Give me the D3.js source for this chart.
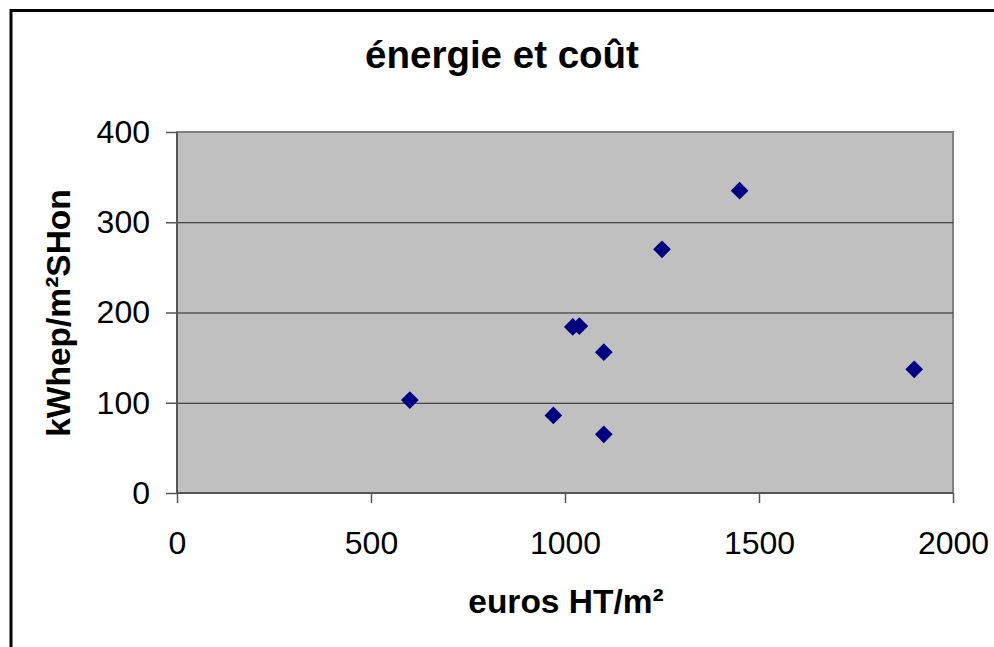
<!DOCTYPE html>
<html><head><meta charset="utf-8">
<script src="https://cdn.jsdelivr.net/npm/d3@7"></script>
<style>body{margin:0;background:#fff}svg{display:block}</style>
</head><body>
<svg id="c" width="994" height="647"></svg>
<script>
const costs    = [600, 970, 1020, 1037, 1100, 1100, 1250, 1450, 1900];
const energies = [103, 86, 184, 185, 156, 65, 270, 335, 137];
const xTicks = [0, 500, 1000, 1500, 2000];
const yTicks = [0, 100, 200, 300, 400];
const title = "énergie et coût";
const xLabel = "euros HT/m²";
const yLabel = "kWhep/m²SHon";

const svg = d3.select("#c");
const font = "'Liberation Sans', Arial, sans-serif";
const L = 177, R = 953, T = 132, B = 493;
const x = d3.scaleLinear().domain([0, 2000]).range([L, R]);
const y = d3.scaleLinear().domain([0, 400]).range([B, T]);

// outer frame
svg.append("rect").attr("x", 11).attr("y", 10.5).attr("width", 1100).attr("height", 1000)
  .attr("fill", "#fff").attr("stroke", "#000").attr("stroke-width", 3);

// plot area
svg.append("rect").attr("x", L).attr("y", T).attr("width", R - L).attr("height", B - T)
  .attr("fill", "#c0c0c0").attr("stroke", "#808080").attr("stroke-width", 2);

// gridlines
svg.append("g").selectAll("line").data(yTicks.filter(d => d > 0 && d < 400)).join("line")
  .attr("x1", L).attr("x2", R).attr("y1", d => y(d) + 0.5).attr("y2", d => y(d) + 0.5)
  .attr("stroke", "#222").attr("stroke-width", 1);

// axes
const xAxis = svg.append("g").attr("transform", `translate(0,${B})`)
  .call(d3.axisBottom(x).tickValues(xTicks).tickSize(10).tickPadding(28).tickFormat(d3.format("d")));
const yAxis = svg.append("g").attr("transform", `translate(${L},0)`)
  .call(d3.axisLeft(y).tickValues(yTicks).tickSize(11).tickPadding(16).tickFormat(d3.format("d")));
[xAxis, yAxis].forEach(a => {
  a.select(".domain").attr("stroke", "#555").attr("stroke-width", 2);
  a.selectAll(".tick line").attr("stroke", "#555").attr("stroke-width", 1.5);
  a.selectAll(".tick text").attr("font-family", font).attr("font-size", 32).attr("fill", "#000");
});
yAxis.select(".domain").attr("d", `M0,${B}V${T}`);
xAxis.select(".domain").attr("d", `M${L},0H${R}`);

// points
svg.append("g").selectAll("path").data(costs.map((c, i) => [c, energies[i]])).join("path")
  .attr("d", d3.symbol().type(d3.symbolDiamond2).size(200))
  .attr("transform", d => `translate(${x(d[0])},${y(d[1])})`)
  .attr("fill", "#000080");

// titles
svg.append("text").attr("x", 502).attr("y", 68).attr("text-anchor", "middle")
  .attr("font-family", font).attr("font-weight", "bold").attr("font-size", 38.5).text(title);
svg.append("text").attr("x", 566).attr("y", 613).attr("text-anchor", "middle")
  .attr("font-family", font).attr("font-weight", "bold").attr("font-size", 33.5).text(xLabel);
svg.append("text").attr("transform", "translate(70,313) rotate(-90)").attr("text-anchor", "middle")
  .attr("font-family", font).attr("font-weight", "bold").attr("font-size", 33.5).text(yLabel);
</script>
</body></html>
